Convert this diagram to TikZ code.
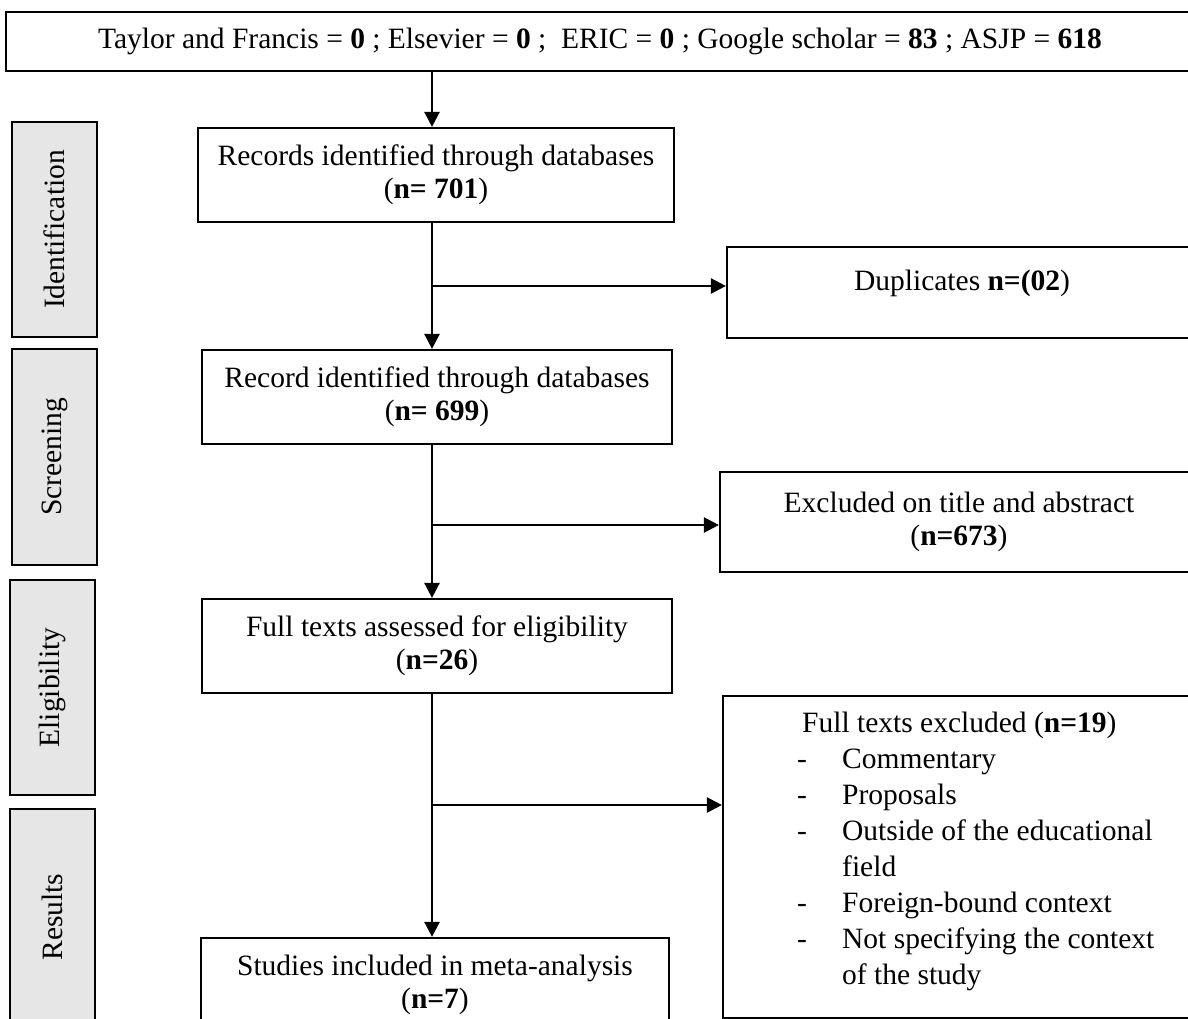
\documentclass[tikz,border=0pt]{standalone}
\usepackage{fontspec}
\setmainfont{Liberation Serif}
\usetikzlibrary{arrows.meta}
\definecolor{sidegray}{HTML}{E7E6E6}
\begin{document}
\begin{tikzpicture}[x=1pt,y=-1pt,
  box/.style={draw, line width=2.2pt, inner sep=0pt, align=center, font=\fontsize{29.5}{33}\selectfont},
  side/.style={draw, line width=2.2pt, fill=sidegray, inner sep=0pt, rotate=90, minimum height=85pt, font=\fontsize{29.5}{33}\selectfont},
  conn/.style={line width=2.5pt, -{Triangle[width=15pt,length=15pt]}}]
\useasboundingbox (0,0) rectangle (1188,1019);
\clip (0,0) rectangle (1188,1019);
% top sources box
\node[box, line width=2.6pt, minimum width=1188pt, minimum height=59pt] (top) at (600,41.5)
  {Taylor and Francis = \textbf{0} ; Elsevier = \textbf{0} ; ~ERIC = \textbf{0} ; Google scholar = \textbf{83} ; ASJP = \textbf{618}};
% phase labels
\node[side, minimum width=215pt] (ident) at (54.5,229.5) {Identification};
\node[side, minimum width=216pt] (screen) at (54.5,457) {Screening};
\node[side, minimum width=215pt] (elig) at (52.5,687.5) {Eligibility};
\node[side, minimum width=216pt] (res) at (52.5,917) {Results};
% main column
\node[box, minimum width=476pt, minimum height=94pt] (box1) at (436,175) {Records identified through databases\\(\textbf{n= 701})};
\node[box, minimum width=470pt, minimum height=94pt] (box2) at (437,397) {Record identified through databases\\(\textbf{n= 699})};
\node[box, minimum width=470pt, minimum height=94pt] (box3) at (437,646) {Full texts assessed for eligibility\\(\textbf{n=26})};
\node[box, minimum width=468pt, minimum height=94pt] (box4) at (435,985) {Studies included in meta-analysis\\(\textbf{n=7})};
% exclusion column
\node[box, minimum width=470pt, minimum height=91pt, text height=20pt, text depth=25pt] (dup) at (962,292.5) {Duplicates \textbf{n=(02})};
\node[box, minimum width=478pt, minimum height=100pt] (excl) at (959,522) {Excluded on title and abstract\\(\textbf{n=673})};
\node[box, minimum width=477pt, minimum height=322pt] (fte) at (961.5,857) {};
\node[anchor=north west, inner sep=0pt, font=\fontsize{29.5}{36}\selectfont] (ftelist) at (797,707)
  {\begin{tabular}{@{}p{45pt}@{}l@{}}
   \multicolumn{2}{@{}l@{}}{\hspace{5pt}Full texts excluded (\textbf{n=19})}\\
   -&Commentary\\
   -&Proposals\\
   -&Outside of the educational\\
    &field\\
   -&Foreign-bound context\\
   -&Not specifying the context\\
    &of the study
   \end{tabular}};
% connectors
\coordinate (spine) at (432,0);
\coordinate (b1) at (432,286);
\coordinate (b2) at (432,525);
\coordinate (b3) at (432,805);
\draw[conn] (top.south -| spine) -- (box1.north -| spine);
\draw[conn] (box1.south -| spine) -- (box2.north -| spine);
\draw[conn] (box2.south -| spine) -- (box3.north -| spine);
\draw[conn] (box3.south -| spine) -- (box4.north -| spine);
\draw[conn] (b1) -- (b1 -| dup.west);
\draw[conn] (b2) -- (b2 -| excl.west);
\draw[conn] (b3) -- (b3 -| fte.west);
\end{tikzpicture}
\end{document}
